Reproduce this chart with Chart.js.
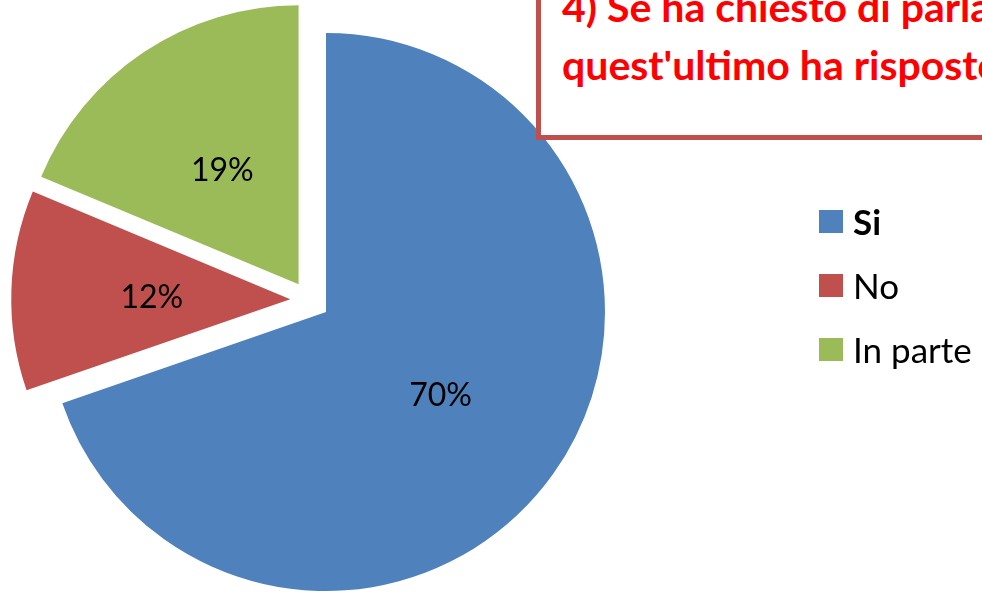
<!DOCTYPE html>
<html lang="it">
<head>
    <meta charset="UTF-8">
    <title>Risposta</title>
    <script src="https://cdn.jsdelivr.net/npm/chart.js"></script>
    <style>
        body { margin: 0; background: #fff; }
        #wrap { position: relative; width: 982px; height: 592px; overflow: hidden; font-family: Lato, sans-serif; }
        #pie { position: absolute; left: 0; top: 0; }
        #titleBox {
            position: absolute; left: 536px; top: -100px; width: 700px; height: 240px;
            box-sizing: border-box; border: 5px solid #C0504D; background: #fff;
        }
        .tl {
            position: absolute; left: 21px; white-space: nowrap;
            color: #FF0000; font-weight: bold; font-size: 41px; line-height: 50px;
        }
        #legend { position: absolute; left: 819px; top: 0; }
        .item { position: absolute; left: 0; display: flex; align-items: center; height: 40px; white-space: nowrap; }
        .sw { width: 24px; height: 23px; margin-right: 10px; }
        .txt { font-size: 35px; color: #000; }
    </style>
</head>
<body>
<div id="wrap">
    <canvas id="pie" width="982" height="592"></canvas>
    <div id="titleBox">
        <div class="tl" style="top:77px">4) Se ha chiesto di parlare</div>
        <div class="tl" style="top:135px">quest'ultimo ha risposto</div>
    </div>
    <div id="legend"></div>
</div>

<script>
    // data
    const labels = ['Si', 'No', 'In parte'];
    const values = [69.7, 11.6, 18.7];
    const colors = ['#4F81BD', '#C0504D', '#9BBB59'];

    // exploded slices: distance (px) and a small turn (deg) away from the bisector, like Excel does
    const explodeDist = [0, 38, 39];
    const explodeTurn = [0, 18, -11];

    // legend
    const legend = document.getElementById('legend');
    labels.forEach((lab, i) => {
        const row = document.createElement('div');
        row.className = 'item';
        row.style.top = (201 + i * 64) + 'px';
        row.innerHTML = '<div class="sw" style="background:' + colors[i] + '"></div>' +
            '<span class="txt"' + (i === 0 ? ' style="font-weight:bold"' : '') + '>' + lab + '</span>';
        legend.appendChild(row);
    });

    function shiftOf(arc, i) {
        const dir = (arc.startAngle + arc.endAngle) / 2 + explodeTurn[i] * Math.PI / 180;
        return [Math.cos(dir) * explodeDist[i], Math.sin(dir) * explodeDist[i]];
    }

    // draws the slices pulled out, then the percentage labels
    const explodedPie = {
        id: 'explodedPie',
        beforeDatasetsDraw(chart) {
            const ctx = chart.ctx;
            chart.getDatasetMeta(0).data.forEach((arc, i) => {
                const s = shiftOf(arc, i);
                ctx.save();
                ctx.translate(s[0], s[1]);
                arc.draw(ctx);
                ctx.restore();
            });
            return false;
        },
        afterDraw(chart) {
            const ctx = chart.ctx;
            const total = values.reduce((a, b) => a + b, 0);
            ctx.save();
            ctx.font = '32px Lato, sans-serif';
            ctx.fillStyle = '#000';
            ctx.textAlign = 'center';
            ctx.textBaseline = 'middle';
            chart.getDatasetMeta(0).data.forEach((arc, i) => {
                const s = shiftOf(arc, i);
                const mid = (arc.startAngle + arc.endAngle) / 2;
                const d = arc.outerRadius * 0.5;
                ctx.fillText(Math.round(values[i] / total * 100) + '%',
                    arc.x + s[0] + Math.cos(mid) * d + 1, arc.y + s[1] + Math.sin(mid) * d + 3);
            });
            ctx.restore();
        }
    };

    new Chart(document.getElementById('pie'), {
        type: 'pie',
        data: {
            labels: labels,
            datasets: [{
                data: values,
                backgroundColor: colors,
                borderWidth: 0,
                hoverOffset: 0,
                radius: 279
            }]
        },
        options: {
            responsive: false,
            animation: false,
            layout: { padding: { left: 0, right: 330, top: 32, bottom: 0 } },
            plugins: {
                legend: { display: false },
                tooltip: { enabled: false }
            }
        },
        plugins: [explodedPie]
    });
</script>
</body>
</html>
